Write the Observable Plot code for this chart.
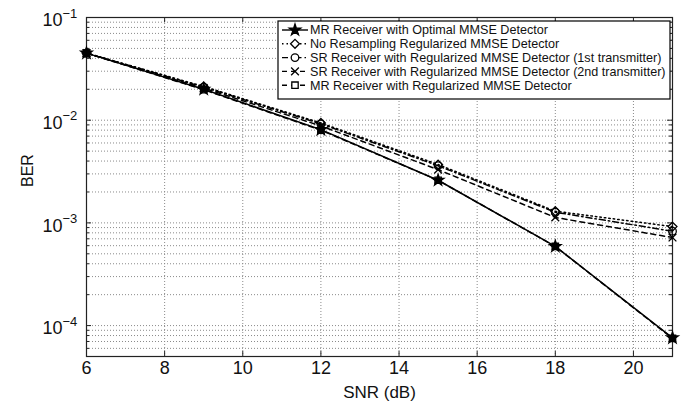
<!DOCTYPE html>
<html><head><meta charset="utf-8">
<script src="https://cdn.jsdelivr.net/npm/d3@7"></script>
<script src="https://cdn.jsdelivr.net/npm/@observablehq/plot@0.6"></script>
<style>
body{margin:0;background:#fff}
svg{font-family:"Liberation Sans",Arial,sans-serif}
</style>
</head><body><div id="chart"></div>
<script>
// ---- data ----
const snr = [6, 9, 12, 15, 18, 21];
const seriesNames = [
  "MR Receiver with Optimal MMSE Detector",
  "No Resampling Regularized MMSE Detector",
  "SR Receiver with Regularized MMSE Detector (1st transmitter)",
  "SR Receiver with Regularized MMSE Detector (2nd transmitter)",
  "MR Receiver with Regularized MMSE Detector"
];
const berMROptimal   = [0.045, 0.0200, 0.0081, 0.0026, 0.00059, 0.000076];
const berNoResample  = [0.045, 0.0213, 0.0094, 0.0037, 0.00130, 0.00092];
const berSR1         = [0.045, 0.0210, 0.0092, 0.0036, 0.00127, 0.00083];
const berSR2         = [0.045, 0.0205, 0.0088, 0.0033, 0.00113, 0.00072];
const berMRReg       = [0.045, 0.0198, 0.0080, 0.0026, 0.00059, 0.000075];
const seriesValues = [berMROptimal, berNoResample, berSR1, berSR2, berMRReg];

const xTicks = [6, 8, 10, 12, 14, 16, 18, 20];
const yTicks = [1e-4, 1e-3, 1e-2, 1e-1];
const yTickExps = ["\u22124", "\u22123", "\u22122", "\u22121"];
const xLabel = "SNR (dB)";
const yLabel = "BER";

// ---- styles ----
const styles = [
  {dash: null,          symbol: "star",     fill: "black", r: 3.6},
  {dash: "1.5,3",       symbol: "diamond2", fill: "none",  r: 4},
  {dash: "6,3,1.5,3",   symbol: "circle",   fill: "none",  r: 3.8},
  {dash: "5,4",         symbol: "times",    fill: "none",  r: 3.6},
  {dash: "5,4",         symbol: "square",   fill: "none",  r: 3.6}
];

const W = 693, H = 409, mL = 86, mR = 21, mT = 17, mB = 53;
const xDomain = [6, 21], yDomain = [5e-5, 0.1];
const decadePx = (H - mT - mB) / Math.log10(yDomain[1] / yDomain[0]);
const xPx = (W - mL - mR) / (xDomain[1] - xDomain[0]);

const rows = [];
seriesNames.forEach((name, i) => snr.forEach((s, j) => rows.push({series: name, idx: i, snr: s, ber: seriesValues[i][j]})));

const yGrid = [];
for (let k = -5; k <= -2; k++) for (let m = 1; m <= 9; m++) {
  const v = m * Math.pow(10, k);
  if (v > yDomain[0] * 1.0001 && v < yDomain[1] * 0.9999) yGrid.push(v);
}
const yMajorInner = yTicks.filter(v => v < yDomain[1] * 0.9999);
const yMinor = yGrid.filter(v => !yTicks.includes(v));

const tx = len => len / xPx;
const ty = len => Math.pow(10, len / decadePx);

const marks = [
  Plot.ruleX(xTicks.filter(d => d > 6), {x: d => d, stroke: "#8a8a8a", strokeWidth: 1, strokeDasharray: "1,2"}),
  Plot.ruleY(yGrid, {y: d => d, stroke: "#8a8a8a", strokeWidth: 1, strokeDasharray: "1,2"}),
  Plot.ruleX(xTicks, {x: d => d, y1: yDomain[0], y2: yDomain[0] * ty(5), stroke: "#222"}),
  Plot.ruleX(xTicks, {x: d => d, y1: yDomain[1], y2: yDomain[1] / ty(5), stroke: "#222"}),
  Plot.ruleY(yMajorInner, {y: d => d, x1: xDomain[0], x2: xDomain[0] + tx(5), stroke: "#222"}),
  Plot.ruleY(yMajorInner, {y: d => d, x1: xDomain[1], x2: xDomain[1] - tx(5), stroke: "#222"}),
  Plot.ruleY(yMinor, {y: d => d, x1: xDomain[0], x2: xDomain[0] + tx(3), stroke: "#222"}),
  Plot.ruleY(yMinor, {y: d => d, x1: xDomain[1], x2: xDomain[1] - tx(3), stroke: "#222"}),
  Plot.frame({stroke: "#222", strokeWidth: 1.2}),
  Plot.text(xTicks, {x: d => d, frameAnchor: "bottom", dy: 17, text: d => String(d), fontSize: 18, fill: "#111"}),
  Plot.text(yTicks, {y: d => d, frameAnchor: "left", dx: -24, dy: 3, text: () => "10", textAnchor: "end", fontSize: 18, fill: "#111"}),
  Plot.text(yTicks, {y: d => d, frameAnchor: "left", dx: -24, dy: -4, text: (d, i) => yTickExps[i], textAnchor: "start", fontSize: 13, fill: "#111"}),
  Plot.text([xLabel], {frameAnchor: "bottom", dy: 41, text: d => d, fontSize: 17, fill: "#111"}),
  Plot.text([yLabel], {frameAnchor: "left", dx: -59, rotate: -90, text: d => d, fontSize: 16, fill: "#111"})
];

[4, 3, 2, 1, 0].forEach(i => {
  const data = rows.filter(r => r.idx === i);
  const st = styles[i];
  marks.push(Plot.line(data, {x: "snr", y: "ber", stroke: "black", strokeWidth: 1.5, strokeDasharray: st.dash || undefined}));
});
[4, 3, 2, 1, 0].forEach(i => {
  const data = rows.filter(r => r.idx === i);
  const st = styles[i];
  marks.push(Plot.dot(data, {x: "snr", y: "ber", symbol: () => st.symbol, r: st.r, stroke: "black", strokeWidth: 1.3, fill: st.fill}));
});

const chart = Plot.plot({
  width: W, height: H,
  marginLeft: mL, marginRight: mR, marginTop: mT, marginBottom: mB,
  x: {domain: xDomain, axis: null},
  y: {type: "log", domain: yDomain, axis: null},
  symbol: {type: "identity"},
  style: {background: "white", fontFamily: '"Liberation Sans", Arial, sans-serif'},
  marks
});
document.getElementById("chart").append(chart);

// ---- legend ----
const svg = d3.select(chart);
const lg = svg.append("g").attr("text-anchor", "start");
const bx = 278, by = 21, bw = 392, bh = 78;
lg.append("rect").attr("x", bx).attr("y", by).attr("width", bw).attr("height", bh)
  .attr("fill", "white").attr("stroke", "black").attr("stroke-width", 1.2);
const symMap = {star: d3.symbolStar, diamond2: d3.symbolDiamond2, circle: d3.symbolCircle, times: d3.symbolTimes, square: d3.symbolSquare};
seriesNames.forEach((name, i) => {
  const st = styles[i];
  const yy = by + 9 + i * 13.8;
  lg.append("line").attr("x1", bx + 4).attr("x2", bx + 30).attr("y1", yy).attr("y2", yy)
    .attr("stroke", "black").attr("stroke-width", 1.4).attr("stroke-dasharray", st.dash || null);
  lg.append("path").attr("transform", `translate(${bx + 17},${yy})`)
    .attr("d", d3.symbol(symMap[st.symbol], Math.PI * st.r * st.r)())
    .attr("fill", st.fill === "none" ? "white" : st.fill).attr("stroke", "black").attr("stroke-width", 1.3);
  lg.append("text").attr("x", bx + 32).attr("y", yy).attr("dy", "0.35em")
    .attr("text-anchor", "start")
    .attr("font-size", 12.6).attr("fill", "#111").text(name);
});
</script>
</body></html>
